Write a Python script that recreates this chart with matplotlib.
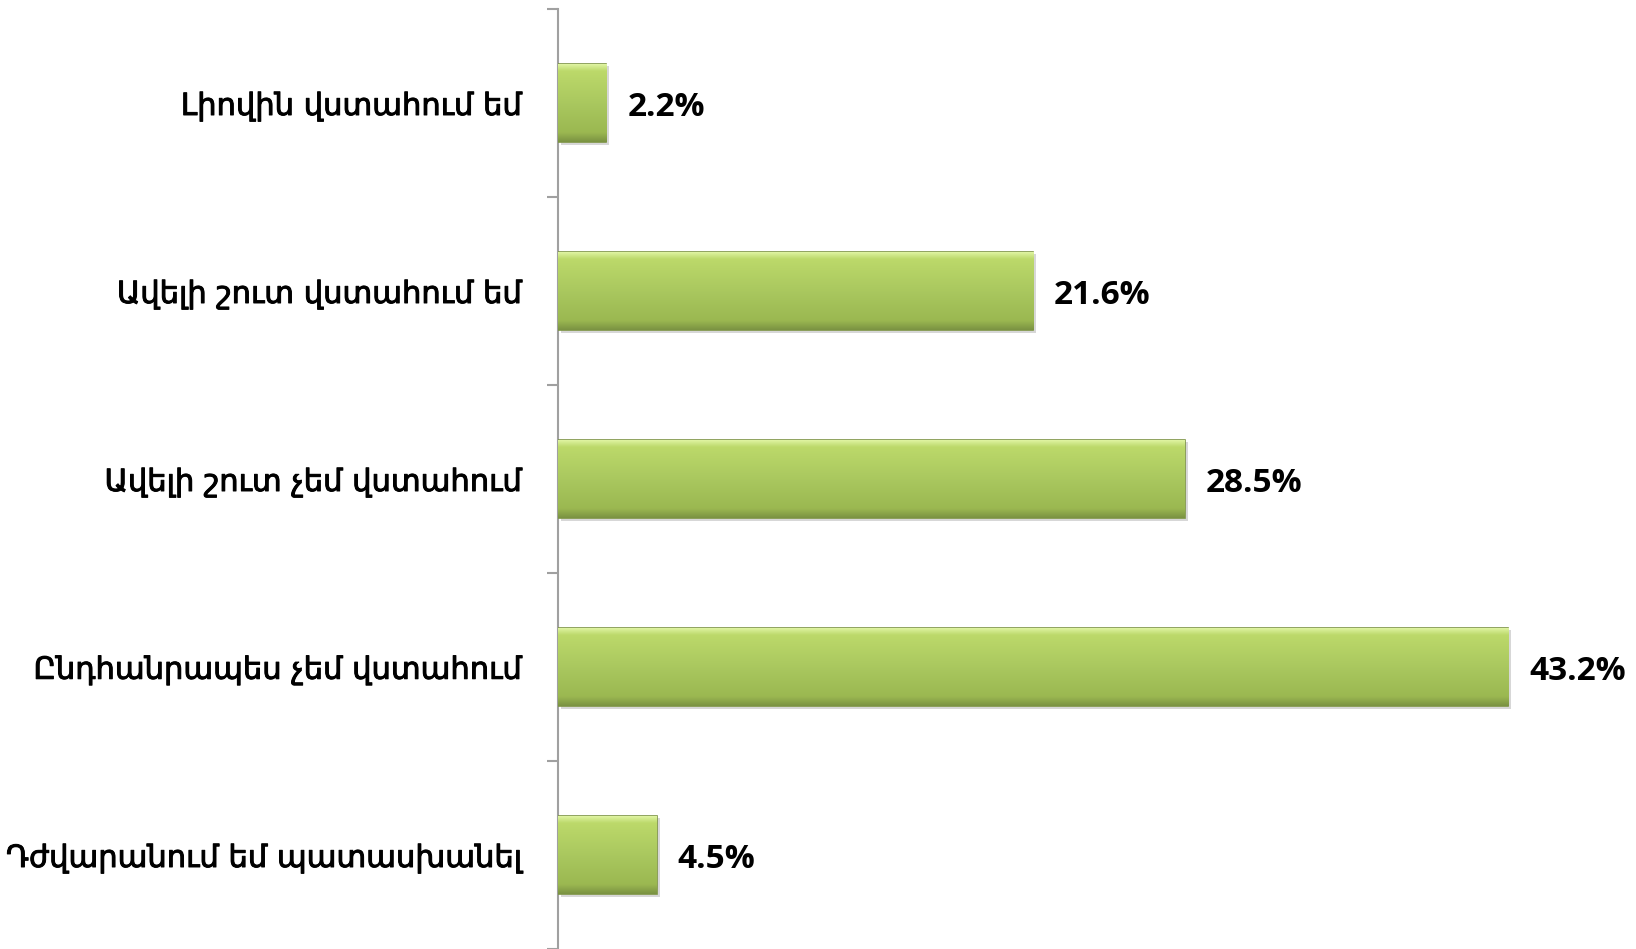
import matplotlib
matplotlib.use("Agg")
import matplotlib.pyplot as plt
import numpy as np
from matplotlib import patheffects as pe
from matplotlib.colors import LinearSegmentedColormap

categories = [
    "Լիովին վստահում եմ",
    "Ավելի շուտ վստահում եմ",
    "Ավելի շուտ չեմ վստահում",
    "Ընդհանրապես չեմ վստահում",
    "Դժվարանում եմ պատասխանել",
]
values = [2.2, 21.6, 28.5, 43.2, 4.5]
value_labels = ["2.2%", "21.6%", "28.5%", "43.2%", "4.5%"]

W, H = 1636, 949
fig = plt.figure(figsize=(W / 100, H / 100), dpi=100)
ax = fig.add_axes([558 / W, 0.0, 1 - 558 / W, (H - 9) / H])

y = np.arange(len(categories))
bar_h = 0.42
bars = ax.barh(y, values, height=bar_h, color="#a6c55a", edgecolor="#7d9444", linewidth=1.2, zorder=3)

grad = np.linspace(0, 1, 256).reshape(-1, 1)
cmap = LinearSegmentedColormap.from_list(
    "g", [(0.0, "#e4f8aa"), (0.1, "#bcd96a"), (0.5, "#aac85f"), (0.88, "#9bb851"), (1.0, "#7a9242")]
)
for b in bars:
    x0, y0 = b.get_x(), b.get_y()
    w, h = b.get_width(), b.get_height()
    im = ax.imshow(grad, extent=(x0, x0 + w, y0 + h, y0), aspect="auto", cmap=cmap,
                   zorder=4, interpolation="bicubic")
    im.set_clip_path(b)
    b.set_path_effects([pe.SimplePatchShadow(offset=(2, -2), shadow_rgbFace="#b0b0b0", alpha=0.5), pe.Normal()])

for b, v, lab in zip(bars, values, value_labels):
    ax.annotate(lab, (v, b.get_y() + b.get_height() / 2), xytext=(15, 0), textcoords="offset points",
                va="center_baseline", ha="left", fontsize=24, fontweight="bold", family="Open Sans",
                color="black", zorder=5)

ax.set_xlim(0, 49)
ax.set_ylim(len(categories) - 0.5, -0.5)
ax.set_yticks(y)
ax.set_yticklabels(categories, fontsize=22, family="DejaVu Sans", color="black")
for t in ax.get_yticklabels():
    t.set_path_effects([pe.Stroke(linewidth=0.7, foreground="black"), pe.Normal()])
ax.tick_params(axis="y", which="major", length=0, pad=26)
ax.set_yticks(np.arange(-0.5, len(categories) + 0.5, 1), minor=True)
ax.tick_params(axis="y", which="minor", length=8, color="#a0a0a0", width=1.5)
ax.set_xticks([])
for s in ["top", "right", "bottom"]:
    ax.spines[s].set_visible(False)
ax.spines["left"].set_color("#a0a0a0")
ax.spines["left"].set_linewidth(1.5)

fig.savefig("out.png", dpi=100)
